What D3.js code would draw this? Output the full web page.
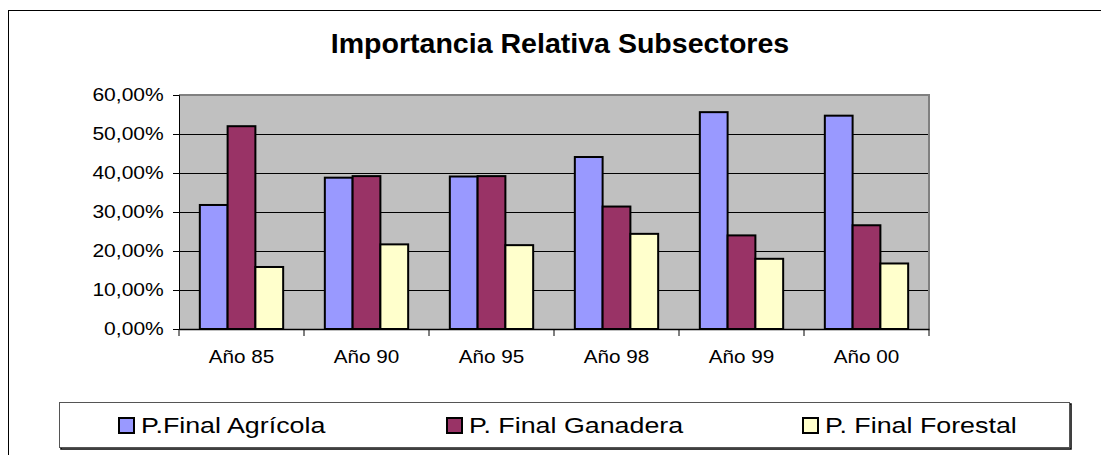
<!DOCTYPE html>
<html>
<head>
<meta charset="utf-8">
<script src="https://cdn.jsdelivr.net/npm/d3@7"></script>
<style>
  body { margin: 0; background: #fff; }
  text { font-family: "Liberation Sans", Arial, sans-serif; fill: #000; }
</style>
</head>
<body>
<div class="container"></div>
<script>
const w = 1101
const h = 455

// data (percent)
const years = ['Año 85', 'Año 90', 'Año 95', 'Año 98', 'Año 99', 'Año 00']
const series = ['P.Final Agrícola', 'P. Final Ganadera', 'P. Final Forestal']
const agricola = [31.8, 38.8, 39.1, 44.1, 55.6, 54.7]
const ganadera = [52.0, 39.2, 39.2, 31.4, 24.0, 26.6]
const forestal = [15.9, 21.7, 21.5, 24.4, 18.0, 16.8]
const yTicks = [0, 10, 20, 30, 40, 50, 60]
const colors = ['#9999ff', '#993366', '#ffffcc']

const values = [agricola, ganadera, forestal]

const plot = { left: 179, right: 929, top: 95, bottom: 329 }

const svg = d3.select('.container')
    .append('svg')
    .attr('width', w)
    .attr('height', h)

// chart area border
svg.append('rect')
    .attr('x', 8.5)
    .attr('y', 10.5)
    .attr('width', w + 10)
    .attr('height', h + 10)
    .attr('fill', '#fff')
    .attr('stroke', '#000')
    .attr('stroke-width', 1)

svg.append('text')
    .text('Importancia Relativa Subsectores')
    .attr('transform', 'translate(560,53) scale(1.02,1)')
    .attr('text-anchor', 'middle')
    .style('font-size', '28px')
    .style('font-weight', 'bold')

const xScale = d3.scaleBand()
    .domain(years)
    .range([plot.left, plot.right])

// excel style: gap width 150% of one bar
const barW = xScale.bandwidth() / 4.5
const xInner = d3.scaleBand()
    .domain(series)
    .range([barW * 0.75, barW * 3.75])

const yScale = d3.scaleLinear()
    .domain([0, 60])
    .range([plot.bottom, plot.top])

// plot background
svg.append('rect')
    .attr('x', plot.left)
    .attr('y', plot.top)
    .attr('width', plot.right - plot.left)
    .attr('height', plot.bottom - plot.top)
    .attr('fill', '#c0c0c0')

// gridlines
svg.append('g')
    .selectAll('line')
    .data(yTicks.slice(1, -1))
    .enter()
    .append('line')
    .attr('x1', plot.left)
    .attr('x2', plot.right)
    .attr('y1', d => Math.round(yScale(d)) + 0.5)
    .attr('y2', d => Math.round(yScale(d)) + 0.5)
    .attr('stroke', '#000')
    .attr('stroke-width', 1)

// plot border (top and right in gray)
svg.append('path')
    .attr('d', `M${plot.left},${plot.top} H${plot.right} V${plot.bottom}`)
    .attr('fill', 'none')
    .attr('stroke', '#808080')
    .attr('stroke-width', 2)

// bars
const groups = svg.append('g')
    .selectAll('g')
    .data(years)
    .enter()
    .append('g')
    .attr('transform', d => 'translate(' + xScale(d) + ',0)')

groups.selectAll('rect')
    .data((d, i) => series.map((s, j) => ({ s: s, v: values[j][i], c: colors[j] })))
    .enter()
    .append('rect')
    .attr('x', d => xInner(d.s))
    .attr('width', xInner.bandwidth())
    .attr('y', d => yScale(d.v))
    .attr('height', d => plot.bottom - yScale(d.v))
    .attr('fill', d => d.c)
    .attr('stroke', '#000')
    .attr('stroke-width', 2)

// y axis
const yAxis = d3.axisLeft(yScale)
    .tickValues(yTicks)
    .tickSize(6)
    .tickPadding(7)
    .tickFormat(d => d3.format('.2f')(d).replace('.', ',') + '%')
const yg = svg.append('g')
    .attr('transform', 'translate(' + plot.left + ',0)')
    .call(yAxis)
yg.select('.domain').attr('stroke', '#000')
yg.selectAll('line').attr('stroke', '#000')
yg.selectAll('text')
    .attr('transform', 'scale(1.17,1)')
    .style('font-size', '18px')
    .style('font-family', '"Liberation Sans", Arial, sans-serif')

// x axis
const xAxis = d3.axisBottom(xScale)
    .tickSize(0)
    .tickPadding(21)
const xg = svg.append('g')
    .attr('transform', 'translate(0,' + plot.bottom + ')')
    .call(xAxis)
xg.select('.domain').attr('stroke', '#000').attr('stroke-width', 1.5)
xg.selectAll('text')
    .attr('transform', 'scale(1.15,1)')
    .style('font-size', '18px')
    .style('font-family', '"Liberation Sans", Arial, sans-serif')
// category separators
xg.append('g')
    .selectAll('line')
    .data(years.concat(['end']))
    .enter()
    .append('line')
    .attr('x1', (d, i) => plot.left + i * xScale.step())
    .attr('x2', (d, i) => plot.left + i * xScale.step())
    .attr('y1', 0)
    .attr('y2', 7)
    .attr('stroke', '#000')

// legend
svg.append('rect')
    .attr('x', 61)
    .attr('y', 404)
    .attr('width', 1010)
    .attr('height', 45)
    .attr('fill', 'none')
    .attr('stroke', '#000')
    .attr('stroke-width', 1.5)
svg.append('rect')
    .attr('x', 59.5)
    .attr('y', 402.5)
    .attr('width', 1010)
    .attr('height', 45)
    .attr('fill', '#fff')
    .attr('stroke', '#555')
    .attr('stroke-width', 1)

const legendX = [119, 447, 803]
const legend = svg.append('g')
    .selectAll('g')
    .data(series)
    .enter()
    .append('g')
    .attr('transform', (d, i) => 'translate(' + legendX[i] + ',418)')
legend.append('rect')
    .attr('width', 15)
    .attr('height', 15)
    .attr('fill', (d, i) => colors[i])
    .attr('stroke', '#000')
    .attr('stroke-width', 2)
legend.append('text')
    .text(d => d)
    .attr('transform', 'translate(22,15) scale(1.22,1)')
    .style('font-size', '22px')
</script>
</body>
</html>
